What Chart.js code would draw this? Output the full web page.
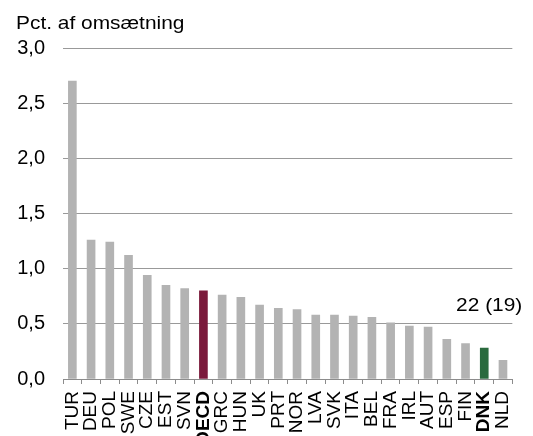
<!DOCTYPE html>
<html>
<head>
<meta charset="utf-8">
<script src="https://cdn.jsdelivr.net/npm/chart.js@4/dist/chart.umd.min.js"></script>
<style>
  body { margin: 0; background: #fff; }
  #wrap { width: 533px; height: 436px; position: relative; }
</style>
</head>
<body>
<div id="wrap"><canvas id="myChart"></canvas></div>
<script>
var countries = ["TUR", "DEU", "POL", "SWE", "CZE", "EST", "SVN", "OECD", "GRC", "HUN", "UK", "PRT",
  "NOR", "LVA", "SVK", "ITA", "BEL", "FRA", "IRL", "AUT", "ESP", "FIN", "DNK", "NLD"];
var values = [2.70, 1.26, 1.24, 1.12, 0.94, 0.85, 0.82, 0.80, 0.76, 0.74, 0.67, 0.64,
  0.63, 0.58, 0.58, 0.57, 0.56, 0.51, 0.48, 0.47, 0.36, 0.32, 0.28, 0.17];
var yTicks = [0, 0.5, 1.0, 1.5, 2.0, 2.5, 3.0];
var yTitle = "Pct. af omsætning";
var note = "22 (19)";

var font = "Arial, 'Liberation Sans', sans-serif";

var barColors = countries.map(function (c) {
  if (c == "OECD") return "#7a1a3b";
  if (c == "DNK") return "#2a6a3e";
  return "#b3b3b3";
});

// title and note are a bit wider in the original, stretch them slightly
var textPlugin = {
  id: 'texts',
  afterDraw: function (chart) {
    var ctx = chart.ctx;
    ctx.save();
    ctx.fillStyle = '#000';
    ctx.font = "19px " + font;
    ctx.textBaseline = 'alphabetic';
    ctx.save();
    ctx.translate(16, 29);
    ctx.scale(1.1, 1);
    ctx.textAlign = 'left';
    ctx.fillText(yTitle, 0, 0);
    ctx.restore();
    ctx.translate(chart.chartArea.right + 10, 306);
    ctx.scale(1.1, 1);
    ctx.textAlign = 'right';
    ctx.textBaseline = 'middle';
    ctx.fillText(note, 0, 0);
    ctx.restore();
  }
};

var ctx = document.getElementById("myChart").getContext('2d');
var myChart = new Chart(ctx, {
  type: 'bar',
  data: {
    labels: countries,
    datasets: [{
      data: values,
      backgroundColor: barColors,
      barThickness: 8
    }]
  },
  plugins: [textPlugin],
  options: {
    responsive: true,
    maintainAspectRatio: false,
    animation: false,
    layout: { padding: { top: 48, right: 11, left: 0, bottom: 0 } },
    plugins: {
      legend: { display: false },
      tooltip: { enabled: false }
    },
    scales: {
      x: {
        afterFit: function (scale) { scale.height = 57; },
        grid: {
          drawOnChartArea: false,
          tickLength: 5,
          color: '#8c8c8c'
        },
        border: { color: '#8c8c8c' },
        ticks: {
          autoSkip: false,
          minRotation: 90,
          maxRotation: 90,
          padding: 7,
          color: '#000',
          font: function (c) {
            var lab = countries[c.index];
            return {
              family: font,
              size: 19,
              weight: (lab == "OECD" || lab == "DNK") ? 'bold' : 'normal'
            };
          }
        }
      },
      y: {
        min: 0,
        max: 3,
        afterFit: function (scale) { scale.width = 63; },
        afterBuildTicks: function (scale) {
          scale.ticks = yTicks.map(function (v) { return { value: v }; });
        },
        border: { display: false },
        grid: { color: '#999999', drawTicks: false },
        ticks: {
          padding: 18,
          color: '#000',
          font: { family: font, size: 20 },
          callback: function (v) { return v.toFixed(1).replace('.', ','); }
        }
      }
    }
  }
});
</script>
</body>
</html>
